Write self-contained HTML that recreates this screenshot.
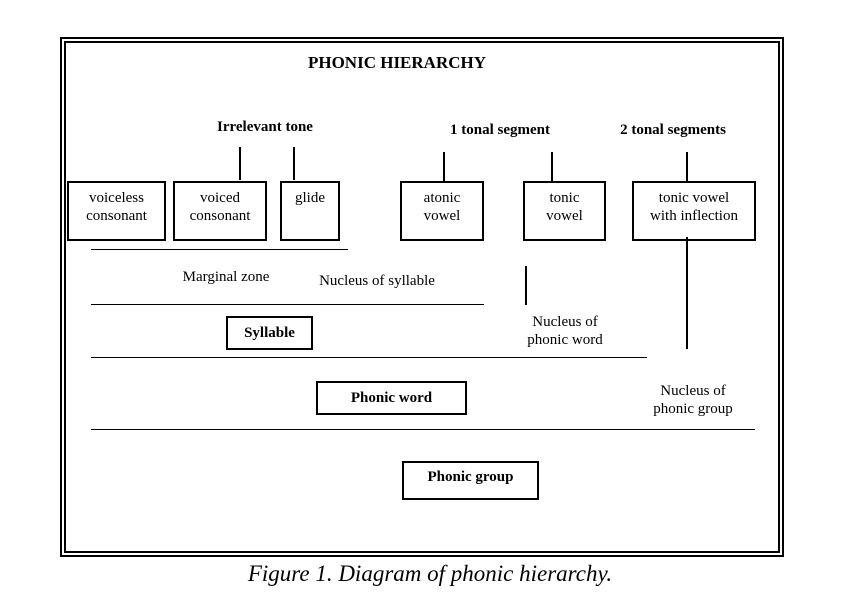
<!DOCTYPE html>
<html><head><style>
body{margin:0;width:845px;height:603px;background:#fff;font-family:"Liberation Serif",serif;position:relative;overflow:hidden}
.a{position:absolute}
.t{position:absolute;font-size:15px;text-align:center;line-height:18px;white-space:nowrap;color:#000}
.b{font-weight:bold}
.box{position:absolute;border:2px solid #000;box-sizing:border-box}
.h{position:absolute;height:1px;background:#000}
.v{position:absolute;width:2px;background:#000}
</style></head><body>
<div class="box" style="left:60px;top:37px;width:724px;height:520px;border-width:2px"></div>
<div class="box" style="left:64px;top:41px;width:716px;height:512px;border-width:2px"></div>

<div class="t b" style="left:297px;top:54px;width:200px;font-size:17px">PHONIC HIERARCHY</div>
<div class="t b" style="left:190px;top:118px;width:150px">Irrelevant tone</div>
<div class="t b" style="left:425px;top:121px;width:150px">1 tonal segment</div>
<div class="t b" style="left:598px;top:121px;width:150px">2 tonal segments</div>

<div class="v" style="left:239px;top:147px;height:33px"></div>
<div class="v" style="left:293px;top:147px;height:33px"></div>
<div class="v" style="left:443px;top:152px;height:30px"></div>
<div class="v" style="left:551px;top:152px;height:29px"></div>
<div class="v" style="left:686px;top:152px;height:29px"></div>
<div class="v" style="left:686px;top:237px;height:112px"></div>
<div class="v" style="left:525px;top:266px;height:39px"></div>

<div class="box" style="left:67px;top:181px;width:99px;height:60px"></div>
<div class="t" style="left:67px;top:189px;width:99px">voiceless<br>consonant</div>
<div class="box" style="left:173px;top:181px;width:94px;height:60px"></div>
<div class="t" style="left:173px;top:189px;width:94px">voiced<br>consonant</div>
<div class="box" style="left:280px;top:181px;width:60px;height:60px"></div>
<div class="t" style="left:280px;top:189px;width:60px">glide</div>
<div class="box" style="left:400px;top:181px;width:84px;height:60px"></div>
<div class="t" style="left:400px;top:189px;width:84px">atonic<br>vowel</div>
<div class="box" style="left:523px;top:181px;width:83px;height:60px"></div>
<div class="t" style="left:523px;top:189px;width:83px">tonic<br>vowel</div>
<div class="box" style="left:632px;top:181px;width:124px;height:60px"></div>
<div class="t" style="left:632px;top:189px;width:124px">tonic vowel<br>with inflection</div>

<div class="h" style="left:91px;top:249px;width:257px"></div>
<div class="t" style="left:176px;top:268px;width:100px">Marginal zone</div>
<div class="t" style="left:307px;top:272px;width:140px">Nucleus of syllable</div>
<div class="h" style="left:91px;top:304px;width:393px"></div>
<div class="box" style="left:226px;top:316px;width:87px;height:34px"></div>
<div class="t b" style="left:226px;top:324px;width:87px">Syllable</div>
<div class="t" style="left:510px;top:313px;width:110px">Nucleus of<br>phonic word</div>
<div class="h" style="left:91px;top:357px;width:556px"></div>
<div class="box" style="left:316px;top:381px;width:151px;height:34px"></div>
<div class="t b" style="left:316px;top:389px;width:151px">Phonic word</div>
<div class="t" style="left:638px;top:382px;width:110px">Nucleus of<br>phonic group</div>
<div class="h" style="left:91px;top:429px;width:664px"></div>
<div class="box" style="left:402px;top:461px;width:137px;height:39px"></div>
<div class="t b" style="left:402px;top:468px;width:137px">Phonic group</div>

<div class="t" style="left:180px;top:561px;width:500px;font-size:23px;font-style:italic;line-height:26px">Figure 1. Diagram of phonic hierarchy.</div>
</body></html>
